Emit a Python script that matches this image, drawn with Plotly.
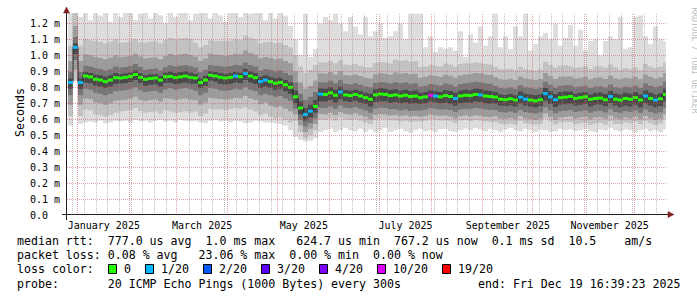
import numpy as np
import pandas as pd
import plotly.graph_objects as go

# ------------------------------------------------------------------ data
# 3-day bins of the SmokePing year graph (values in milliseconds)
bin_start = pd.date_range("2024-12-26", periods=120, freq="3D")
data_end = pd.Timestamp("2025-12-19 16:39:23")

rtt_median = [
    0.83, 1.05, 0.83, 0.87, 0.865, 0.85, 0.845, 0.835, 0.845, 0.86,
    0.858, 0.862, 0.868, 0.88, 0.862, 0.85, 0.855, 0.858, 0.845, 0.866,
    0.868, 0.86, 0.865, 0.87, 0.862, 0.858, 0.83, 0.845, 0.875, 0.87,
    0.862, 0.858, 0.862, 0.87, 0.866, 0.885, 0.87, 0.86, 0.835, 0.845,
    0.835, 0.825, 0.83, 0.815, 0.80, 0.74, 0.67, 0.63, 0.65, 0.68,
    0.757, 0.755, 0.765, 0.75, 0.77, 0.752, 0.748, 0.755, 0.745, 0.735,
    0.725, 0.752, 0.758, 0.755, 0.748, 0.752, 0.745, 0.75, 0.742, 0.745,
    0.735, 0.74, 0.75, 0.745, 0.74, 0.748, 0.742, 0.73, 0.745, 0.75,
    0.748, 0.755, 0.752, 0.745, 0.742, 0.738, 0.725, 0.722, 0.728, 0.72,
    0.738, 0.725, 0.72, 0.715, 0.722, 0.76, 0.74, 0.722, 0.735, 0.738,
    0.742, 0.73, 0.735, 0.74, 0.725, 0.73, 0.732, 0.722, 0.742, 0.725,
    0.72, 0.73, 0.725, 0.735, 0.72, 0.745, 0.73, 0.72, 0.728, 0.755,
]
rtt_min = [
    0.56, 0.84, 0.57, 0.58, 0.585, 0.58, 0.59, 0.575, 0.58, 0.59,
    0.585, 0.59, 0.58, 0.595, 0.585, 0.59, 0.58, 0.59, 0.595, 0.585,
    0.59, 0.58, 0.595, 0.59, 0.585, 0.59, 0.58, 0.575, 0.59, 0.595,
    0.585, 0.59, 0.58, 0.59, 0.585, 0.575, 0.58, 0.59, 0.585, 0.58,
    0.58, 0.575, 0.57, 0.56, 0.53, 0.49, 0.47, 0.46, 0.465, 0.48,
    0.52, 0.53, 0.54, 0.52, 0.53, 0.545, 0.53, 0.525, 0.54, 0.52,
    0.535, 0.52, 0.53, 0.545, 0.52, 0.53, 0.54, 0.525, 0.515, 0.53,
    0.54, 0.525, 0.53, 0.52, 0.535, 0.54, 0.525, 0.52, 0.53, 0.54,
    0.53, 0.545, 0.535, 0.525, 0.54, 0.53, 0.52, 0.535, 0.545, 0.53,
    0.525, 0.54, 0.53, 0.52, 0.535, 0.53, 0.52, 0.525, 0.54, 0.53,
    0.535, 0.525, 0.53, 0.54, 0.525, 0.52, 0.535, 0.53, 0.545, 0.53,
    0.525, 0.535, 0.53, 0.52, 0.53, 0.54, 0.525, 0.53, 0.52, 0.535,
]
rtt_max = [
    1.27, 1.27, 1.24, 1.27, 1.22, 1.27, 1.25, 1.27, 1.21, 1.27,
    1.24, 1.27, 1.27, 1.22, 1.26, 1.27, 1.23, 1.27, 1.25, 1.20,
    1.27, 1.24, 1.27, 1.27, 1.22, 1.26, 1.27, 1.27, 1.23, 1.27,
    1.25, 1.21, 1.27, 1.27, 1.24, 1.27, 1.26, 1.27, 1.27, 1.22,
    1.27, 1.23, 1.27, 1.25, 1.185, 1.10, 1.00, 1.26, 0.99, 1.04,
    1.20, 1.24, 1.22, 1.26, 1.20, 1.15, 1.24, 1.18, 1.13, 1.24,
    1.12, 1.15, 1.20, 1.11, 1.12, 1.15, 1.20, 1.10, 1.26, 1.26,
    1.26, 1.05, 1.12, 1.02, 1.05, 1.04, 1.05, 1.03, 1.15, 0.99,
    1.13, 1.08, 1.18, 1.06, 1.12, 1.26, 1.05, 1.12, 1.04, 1.18,
    1.12, 1.26, 1.03, 1.07, 1.12, 1.14, 1.10, 1.20, 1.06, 1.11,
    1.19, 1.06, 1.16, 1.03, 1.09, 1.10, 1.00, 1.09, 1.12, 1.10,
    1.24, 1.04, 1.05, 1.24, 1.25, 1.12, 1.07, 1.18, 1.10, 1.09,
]
# lost pings (out of 20) per bin
loss_pings = [
    1, 1, 1, 0, 0, 0, 0, 0, 0, 0,
    0, 0, 0, 0, 0, 0, 0, 0, 0, 0,
    0, 0, 0, 0, 0, 0, 0, 0, 0, 0,
    0, 0, 0, 1, 0, 1, 0, 0, 1, 1,
    0, 0, 0, 0, 0, 0, 0, 1, 1, 0,
    1, 0, 0, 0, 1, 0, 0, 0, 0, 0,
    0, 0, 0, 0, 0, 0, 0, 0, 0, 0,
    0, 0, 10, 1, 0, 0, 0, 1, 0, 0,
    0, 0, 1, 0, 0, 0, 0, 0, 0, 0,
    1, 1, 0, 0, 0, 1, 1, 1, 0, 0,
    0, 0, 0, 0, 0, 0, 0, 0, 1, 0,
    0, 0, 0, 0, 0, 1, 0, 1, 0, 0,
]

# spread of the sorted pings around the median, per 15-day window (ms)
window_start = pd.date_range("2024-12-26", periods=24, freq="15D")
spread_lo2 = [0.21, 0.22, 0.21, 0.21, 0.22, 0.21, 0.20, 0.21, 0.22, 0.15,
              0.16, 0.155, 0.155, 0.16, 0.15, 0.155, 0.16, 0.155, 0.15, 0.155,
              0.16, 0.155, 0.15, 0.155]
spread_lo4 = [0.14, 0.145, 0.14, 0.135, 0.14, 0.14, 0.135, 0.14, 0.15, 0.11,
              0.125, 0.12, 0.125, 0.125, 0.12, 0.125, 0.13, 0.12, 0.12, 0.125,
              0.125, 0.12, 0.12, 0.125]
spread_lo6 = [0.08, 0.085, 0.08, 0.08, 0.075, 0.08, 0.08, 0.085, 0.085, 0.075,
              0.085, 0.08, 0.085, 0.09, 0.08, 0.085, 0.085, 0.08, 0.08, 0.085,
              0.085, 0.08, 0.08, 0.085]
spread_lo8 = [0.04, 0.04, 0.035, 0.04, 0.04, 0.035, 0.04, 0.04, 0.04, 0.04,
              0.045, 0.04, 0.045, 0.045, 0.04, 0.045, 0.045, 0.04, 0.04, 0.045,
              0.045, 0.04, 0.045, 0.045]
spread_hi13 = [0.025, 0.03, 0.025, 0.025, 0.03, 0.025, 0.025, 0.03, 0.03, 0.04,
               0.035, 0.03, 0.035, 0.035, 0.03, 0.035, 0.035, 0.03, 0.035, 0.035,
               0.03, 0.035, 0.035, 0.035]
spread_hi15 = [0.065, 0.07, 0.065, 0.06, 0.07, 0.065, 0.07, 0.07, 0.075, 0.09,
               0.075, 0.07, 0.075, 0.08, 0.07, 0.075, 0.08, 0.07, 0.075, 0.075,
               0.07, 0.075, 0.075, 0.08]
spread_hi17 = [0.135, 0.14, 0.13, 0.13, 0.14, 0.135, 0.14, 0.145, 0.15, 0.16,
               0.13, 0.125, 0.13, 0.14, 0.125, 0.13, 0.135, 0.125, 0.13, 0.13,
               0.125, 0.13, 0.13, 0.135]
spread_hi19 = [0.23, 0.24, 0.22, 0.23, 0.24, 0.22, 0.23, 0.24, 0.25, 0.26,
               0.20, 0.19, 0.20, 0.22, 0.19, 0.20, 0.20, 0.19, 0.19, 0.20,
               0.19, 0.20, 0.19, 0.20]

month_label_at = pd.to_datetime(["2025-01-16 12:00", "2025-03-16 12:00", "2025-05-16 12:00",
                                 "2025-07-16 12:00", "2025-09-16 00:00", "2025-11-16 00:00"])
month_labels = ["January 2025", "March 2025", "May 2025", "July 2025",
                "September 2025", "November 2025"]
y_tick_values = [0.0, 0.1, 0.2, 0.3, 0.4, 0.5, 0.6, 0.7, 0.8, 0.9, 1.0, 1.1, 1.2]
y_tick_text = ["0.0\u00a0\u00a0", "0.1 m", "0.2 m", "0.3 m", "0.4 m", "0.5 m", "0.6 m",
               "0.7 m", "0.8 m", "0.9 m", "1.0 m", "1.1 m", "1.2 m"]

legend_levels = [0, 1, 2, 3, 4, 10, 19]
legend_labels = ["0", "1/20", "2/20", "3/20", "4/20", "10/20", "19/20"]
loss_colors = ["#26ff00", "#00b8ff", "#0059ff", "#5e00ff", "#7e00ff", "#dd00ff", "#ff0000"]

line_rtt = "median rtt:  777.0 us avg  1.0 ms max   624.7 us min  767.2 us now  0.1 ms sd  10.5    am/s"
line_loss = "packet loss: 0.08 % avg   23.06 % max  0.00 % min  0.00 % now"
line_color = "loss color:"
line_probe = "probe:       20 ICMP Echo Pings (1000 Bytes) every 300s"
line_end = "end: Fri Dec 19 16:39:23 2025"

# ------------------------------------------------------------------ layout constants
W, H = 697, 297
PL, PR, PT, PB = 67, 667, 13, 215
Y_TOP = 1.265
x_left = pd.Timestamp("2024-12-25 10:00")
x_right = x_left + pd.Timedelta(days=360)
MONO = "DejaVu Sans Mono"
AXIS_FONT = 10
LEG_FONT = 11.6


def fx(p):
    return (p - PL) / (PR - PL)


def fy(p):
    return (PB - p) / (PB - PT)


def nb(s):
    return s.replace(" ", "\u00a0")


def col_px(d):
    return PL + (d - x_left) / (x_right - x_left) * (PR - PL)


def snap_y(v):
    p = PB - v / Y_TOP * (PB - PT)
    return fy(np.floor(p) + 0.5)


med = np.array(rtt_median)
mn = np.array(rtt_min)
mx = np.array(rtt_max)
win = np.searchsorted(window_start.values, bin_start.values, side="right") - 1
bin_end = list(bin_start[1:]) + [data_end]


def step_xy(vals):
    return list(bin_start) + [data_end], list(vals) + [vals[-1]]


fig = go.Figure()

band_pairs = [(mn, mx)]
for slo, shi in [(spread_lo2, spread_hi19), (spread_lo4, spread_hi17),
                 (spread_lo6, spread_hi15), (spread_lo8, spread_hi13)]:
    lo = np.clip(med - np.array(slo)[win], mn, mx)
    hi = np.clip(med + np.array(shi)[win], mn, mx)
    band_pairs.append((lo, hi))
band_colors = ["#dddddd", "#c2c2c2", "#9c9c9c", "#767676", "#4a4a4a"]

for (lo, hi), col in zip(band_pairs, band_colors):
    xs, yl = step_xy(lo)
    _, yh = step_xy(hi)
    fig.add_trace(go.Scatter(x=xs, y=yl, mode="lines", line=dict(width=0, shape="hv"),
                             hoverinfo="skip", showlegend=False))
    fig.add_trace(go.Scatter(x=xs, y=yh, mode="lines", line=dict(width=0, shape="hv"),
                             fill="tonexty", fillcolor=col, hoverinfo="skip", showlegend=False))

xs, ym = step_xy(med)
fig.add_trace(go.Scatter(x=xs, y=ym, mode="lines", line=dict(color="#202020", width=1, shape="hv"),
                         hoverinfo="skip", showlegend=False))

level_idx = np.searchsorted(legend_levels, loss_pings, side="right") - 1
for j, col in enumerate(loss_colors):
    sx, sy = [], []
    for i in np.where(level_idx == j)[0]:
        sx += [bin_start[i], bin_end[i], None]
        sy += [med[i], med[i], None]
    if sx:
        fig.add_trace(go.Scatter(x=sx, y=sy, mode="lines", line=dict(color=col, width=3),
                                 hoverinfo="skip", showlegend=False))

shapes = []
MINOR = "rgba(143,143,143,0.6)"
MAJOR = "rgba(222,79,79,0.55)"
DOT = "1px,1px"
major_cols = [np.floor(col_px(d)) for d in pd.date_range("2025-01-01", "2025-12-01", freq="MS")]
for d in pd.date_range("2024-12-29", "2025-12-19", freq="7D"):
    c = np.floor(col_px(d))
    if min(abs(c - m) for m in major_cols) <= 1:
        continue
    shapes.append(dict(type="line", xref="paper", yref="paper", x0=fx(c + 0.5), x1=fx(c + 0.5),
                       y0=0, y1=1, line=dict(color=MINOR, width=1, dash=DOT), layer="above"))
for c in major_cols:
    shapes.append(dict(type="line", xref="paper", yref="paper", x0=fx(c + 0.5), x1=fx(c + 0.5),
                       y0=0, y1=1, line=dict(color=MAJOR, width=1, dash=DOT), layer="above"))
for v in y_tick_values[1:]:
    sy_ = snap_y(v)
    shapes.append(dict(type="line", xref="paper", yref="paper", x0=0, x1=1, y0=sy_, y1=sy_,
                       line=dict(color=MAJOR, width=1, dash=DOT), layer="above"))

# axes and arrows
AX = "#1f1f1f"
ARROW = "#7f1f1f"
shapes.append(dict(type="line", xref="paper", yref="paper", x0=fx(62), x1=fx(669),
                   y0=fy(214.5), y1=fy(214.5), line=dict(color=AX, width=1), layer="above"))
shapes.append(dict(type="line", xref="paper", yref="paper", x0=fx(66.5), x1=fx(66.5),
                   y0=fy(220), y1=fy(12), line=dict(color=AX, width=1), layer="above"))
shapes.append(dict(type="path", xref="paper", yref="paper", layer="above",
                   path=f"M {fx(63.5)},{fy(13)} L {fx(66.5)},{fy(7)} L {fx(69.5)},{fy(13)} Z",
                   fillcolor=ARROW, line=dict(color=ARROW, width=0.5)))
shapes.append(dict(type="path", xref="paper", yref="paper", layer="above",
                   path=f"M {fx(668)},{fy(211.5)} L {fx(674)},{fy(214.5)} L {fx(668)},{fy(217.5)} Z",
                   fillcolor=ARROW, line=dict(color=ARROW, width=0.5)))

annotations = []


def text(s, x, y, size=LEG_FONT, anchor="left", color="#000000", angle=0):
    annotations.append(dict(text=nb(s), x=fx(x), y=fy(y), xref="paper", yref="paper",
                            xanchor=anchor, yanchor="middle", showarrow=False, textangle=angle,
                            font=dict(family=MONO, size=size, color=color)))


text(line_rtt, 15, 241)
text(line_loss, 15, 255)
text(line_color, 15, 269)
text(line_probe, 15, 284)
text(line_end, 682, 284, anchor="right")
text("Seconds", 11, 113, angle=-90)
text("RRDTOOL / TOBI OETIKER", 688, 60, size=8, color="#bdbdbd", angle=90)

# loss colour legend boxes
bx = 108
for col, lab in zip(loss_colors, legend_labels):
    shapes.append(dict(type="rect", xref="paper", yref="paper", x0=fx(bx + 0.5), x1=fx(bx + 8.5),
                       y0=fy(273.5), y1=fy(264.5), fillcolor=col, line=dict(color="#000000", width=1)))
    text(lab, bx + 14, 269)
    bx += 15 + 7 * len(lab) + 15

fig.update_layout(
    width=W, height=H,
    margin=dict(l=PL, r=W - PR, t=PT, b=H - PB, pad=0),
    paper_bgcolor="#ffffff", plot_bgcolor="#ffffff",
    showlegend=False,
    shapes=shapes, annotations=annotations,
    xaxis=dict(type="date", range=[x_left, x_right], tickmode="array", tickvals=month_label_at,
               ticktext=month_labels, showgrid=False, zeroline=False, showline=False, ticks="",
               ticklabelstandoff=3,
               tickfont=dict(family=MONO, size=AXIS_FONT, color="#000000"), fixedrange=True),
    yaxis=dict(range=[0, Y_TOP], tickmode="array", tickvals=y_tick_values, ticktext=y_tick_text,
               showgrid=False, zeroline=False, showline=False, ticks="", ticklabelstandoff=6,
               tickfont=dict(family=MONO, size=AXIS_FONT, color="#000000"), fixedrange=True),
)

fig.write_html("out.html", config={"displayModeBar": False})
